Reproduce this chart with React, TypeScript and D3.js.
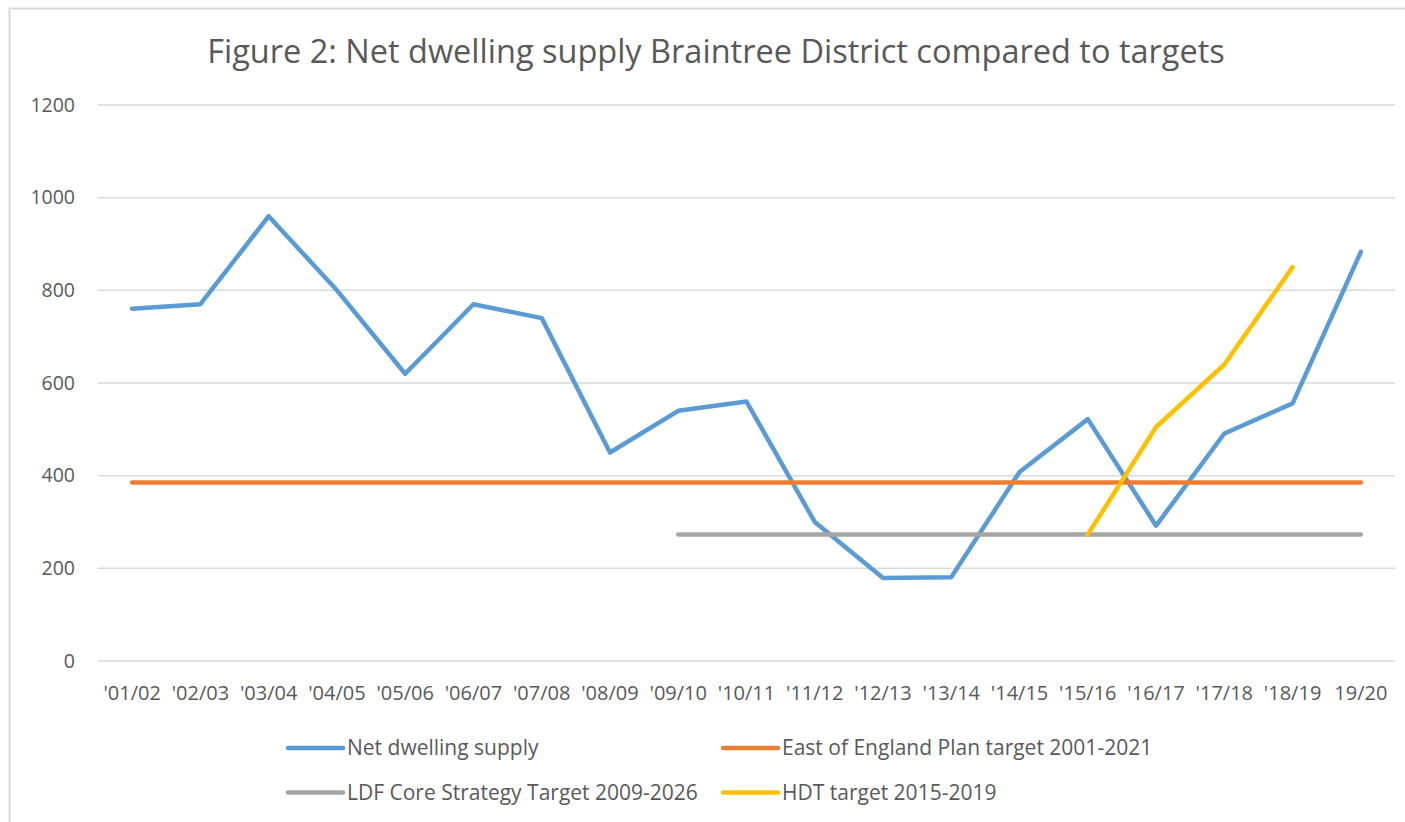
import React from 'react'
import { scaleBand, scaleLinear, line } from 'd3'

const categories = ["'01/02", "'02/03", "'03/04", "'04/05", "'05/06", "'06/07", "'07/08", "'08/09", "'09/10", "'10/11", "'11/12", "'12/13", "'13/14", "'14/15", "'15/16", "'16/17", "'17/18", "'18/19", '19/20']
const netSupply = [760, 770, 960, 800, 620, 770, 740, 450, 540, 560, 300, 179, 181, 408, 522, 292, 491, 556, 883]
const eastOfEngland = [385, 385, 385, 385, 385, 385, 385, 385, 385, 385, 385, 385, 385, 385, 385, 385, 385, 385, 385]
const ldfCore = [null, null, null, null, null, null, null, null, 273, 273, 273, 273, 273, 273, 273, 273, 273, 273, 273]
const hdtTarget = [null, null, null, null, null, null, null, null, null, null, null, null, null, null, 273, 505, 640, 850, null]
const yTicks = [0, 200, 400, 600, 800, 1000, 1200]

const series = [
  { name: 'Net dwelling supply', values: netSupply, color: '#5B9BD5' },
  { name: 'East of England Plan target 2001-2021', values: eastOfEngland, color: '#ED7D31' },
  { name: 'LDF Core Strategy Target 2009-2026', values: ldfCore, color: '#A5A5A5' },
  { name: 'HDT target 2015-2019', values: hdtTarget, color: '#FFC000' }
]

const W = 1405
const H = 822
const PLOT = { left: 98, right: 1395, top: 105, bottom: 661 }
const FONT = '"Open Sans", Lato, sans-serif'
const TEXT = '#595959'

export default function App() {
  const x = scaleBand<string>().domain(categories).range([PLOT.left, PLOT.right])
  const y = scaleLinear().domain([0, 1200]).range([PLOT.bottom, PLOT.top])
  const cx = (c: string) => (x(c) ?? 0) + x.bandwidth() / 2

  const legend = [
    { s: series[0], lx: 288, ly: 748 },
    { s: series[1], lx: 723, ly: 748 },
    { s: series[2], lx: 288, ly: 792.5 },
    { s: series[3], lx: 723, ly: 792.5 }
  ]

  return (
    <svg width={W} height={H} style={{ position: 'absolute', left: 0, top: 0, background: '#fff' }}>
      <line x1={9.5} x2={9.5} y1={8} y2={H} stroke="#d9d9d9" strokeWidth={2} />
      <line x1={9} x2={W} y1={8.5} y2={8.5} stroke="#d9d9d9" strokeWidth={2} />

      <text x={716} y={63} textAnchor="middle" fontFamily={FONT} fontSize={32.5} fill={TEXT}>
        Figure 2: Net dwelling supply Braintree District compared to targets
      </text>

      <g className="grid">
        {yTicks.map((t) => (
          <g key={t}>
            <line x1={PLOT.left} x2={PLOT.right} y1={y(t)} y2={y(t)} stroke="#d9d9d9" strokeWidth={1.5} />
            <text x={75} y={y(t)} dy="0.35em" textAnchor="end" fontFamily={FONT} fontSize={19.5} fill={TEXT}>
              {t}
            </text>
          </g>
        ))}
      </g>

      <g className="x-axis">
        {categories.map((c) => (
          <text key={c} x={cx(c)} y={700} textAnchor="middle" fontFamily={FONT} fontSize={20} fill={TEXT}>
            {c}
          </text>
        ))}
      </g>

      <g className="lines">
        {series.map((s) => {
          const pts = categories.map((c, i) => [c, s.values[i]] as [string, number | null])
          const path = line<[string, number | null]>()
            .defined((d) => d[1] != null)
            .x((d) => cx(d[0]))
            .y((d) => y(d[1] as number))(pts)
          return (
            <path key={s.name} d={path || ''} fill="none" stroke={s.color} strokeWidth={4.5} strokeLinecap="round" strokeLinejoin="round" />
          )
        })}
      </g>

      <g className="legend">
        {legend.map(({ s, lx, ly }) => (
          <g key={s.name}>
            <line x1={lx} x2={lx + 55} y1={ly} y2={ly} stroke={s.color} strokeWidth={4.5} strokeLinecap="round" />
            <text x={lx + 59} y={ly} dy="0.35em" fontFamily={FONT} fontSize={21} fill={TEXT}>
              {s.name}
            </text>
          </g>
        ))}
      </g>
    </svg>
  )
}
